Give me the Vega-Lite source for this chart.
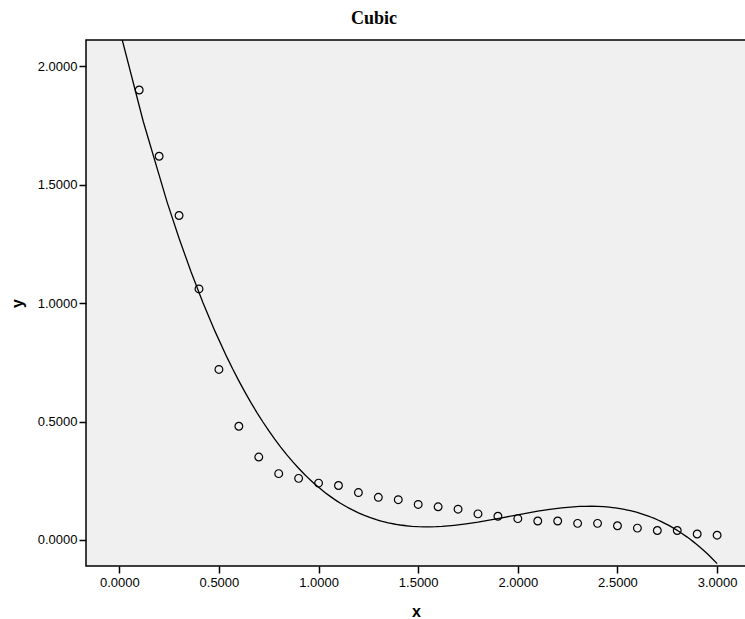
{
  "$schema": "https://vega.github.io/schema/vega-lite/v6.json",
  "width": 660,
  "height": 526,
  "autosize": {"type": "none"},
  "padding": {"left": 86, "top": 40, "right": 0, "bottom": 53},
  "background": "white",
  "title": {
    "text": "Cubic",
    "font": "Liberation Serif",
    "fontSize": 18,
    "fontWeight": "bold",
    "color": "#000",
    "anchor": "middle",
    "dx": -42,
    "offset": 12
  },
  "config": {
    "view": {"fill": "#f0f0f0", "stroke": "#000", "strokeWidth": 1.5},
    "axis": {
      "grid": false,
      "domain": false,
      "tickColor": "#000",
      "tickWidth": 1.5,
      "tickSize": 7,
      "labelFont": "Liberation Sans",
      "labelFontSize": 13,
      "labelColor": "#000",
      "labelPadding": 2,
      "titleFont": "Liberation Sans",
      "titleFontSize": 16,
      "titleFontWeight": "bold",
      "titleColor": "#000"
    }
  },
  "data": {
    "values": [
      {"x": 0.1, "y": 1.90}, {"x": 0.2, "y": 1.62}, {"x": 0.3, "y": 1.37},
      {"x": 0.4, "y": 1.06}, {"x": 0.5, "y": 0.72}, {"x": 0.6, "y": 0.48},
      {"x": 0.7, "y": 0.35}, {"x": 0.8, "y": 0.28}, {"x": 0.9, "y": 0.26},
      {"x": 1.0, "y": 0.24}, {"x": 1.1, "y": 0.23}, {"x": 1.2, "y": 0.20},
      {"x": 1.3, "y": 0.18}, {"x": 1.4, "y": 0.17}, {"x": 1.5, "y": 0.15},
      {"x": 1.6, "y": 0.14}, {"x": 1.7, "y": 0.13}, {"x": 1.8, "y": 0.11},
      {"x": 1.9, "y": 0.10}, {"x": 2.0, "y": 0.09}, {"x": 2.1, "y": 0.08},
      {"x": 2.2, "y": 0.08}, {"x": 2.3, "y": 0.07}, {"x": 2.4, "y": 0.07},
      {"x": 2.5, "y": 0.06}, {"x": 2.6, "y": 0.05}, {"x": 2.7, "y": 0.04},
      {"x": 2.8, "y": 0.04}, {"x": 2.9, "y": 0.025}, {"x": 3.0, "y": 0.02}
    ]
  },
  "encoding": {
    "x": {
      "field": "x", "type": "quantitative", "title": "x",
      "scale": {"domain": [-0.167, 3.145], "nice": false, "zero": false},
      "axis": {"values": [0, 0.5, 1, 1.5, 2, 2.5, 3], "format": ".4f", "labelPadding": 3, "titlePadding": 14}
    },
    "y": {
      "field": "y", "type": "quantitative", "title": "y",
      "scale": {"domain": [-0.11, 2.111], "nice": false, "zero": false},
      "axis": {"values": [0, 0.5, 1, 1.5, 2], "format": ".4f", "titlePadding": 12}
    }
  },
  "layer": [
    {
      "transform": [
        {"regression": "y", "on": "x", "method": "poly", "order": 3, "extent": [0, 3]}
      ],
      "mark": {"type": "line", "color": "#000", "strokeWidth": 1.3, "clip": true}
    },
    {
      "mark": {"type": "point", "shape": "circle", "filled": false, "stroke": "#000", "strokeWidth": 1.2, "size": 60, "opacity": 1}
    }
  ]
}
